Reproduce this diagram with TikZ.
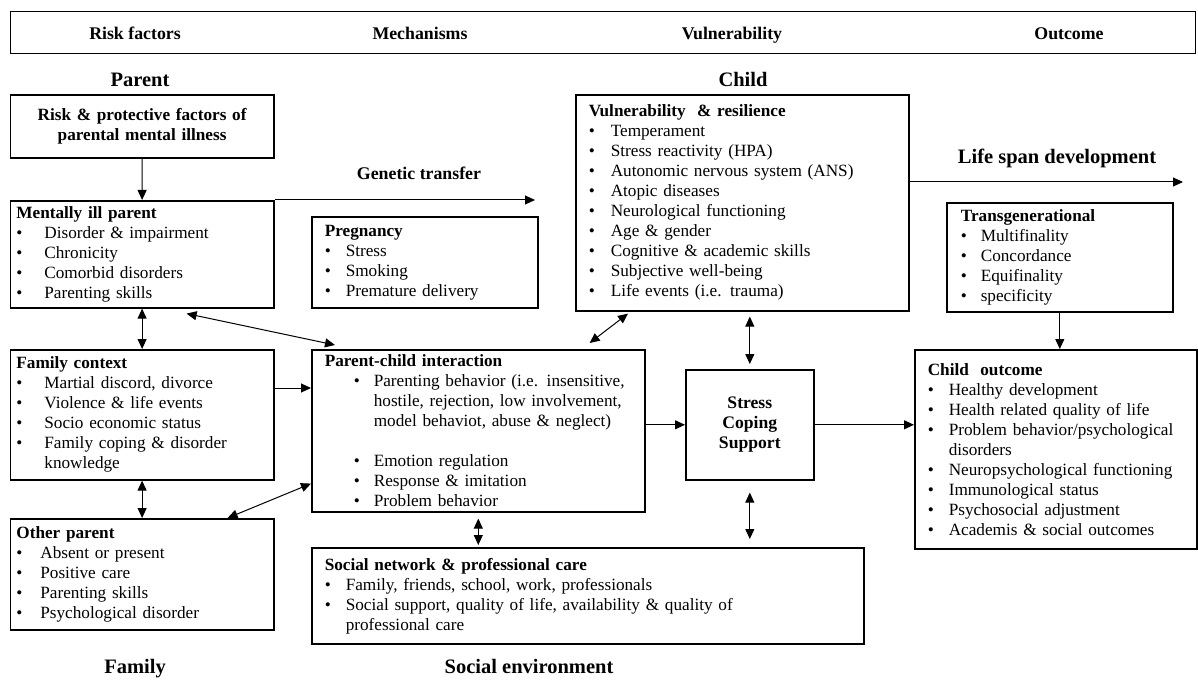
\documentclass[tikz,border=0pt]{standalone}
\usepackage{fontspec}
\setmainfont{Liberation Serif}
\usepackage{tikz}
\usepackage{xcolor}
\usetikzlibrary{arrows.meta,positioning,calc}
\definecolor{ink}{RGB}{0,0,0}
\tikzstyle{box} = [
    rectangle,
    draw=ink,
    line width=0.8pt,
    anchor=north west,
    align=left,
    inner ysep=1pt,
    font=\fontsize{8.6}{10}\selectfont
]
\tikzstyle{arrow} = [
    line width=0.5pt,
    draw=ink,
    -{Triangle[length=5pt,width=4.5pt]}
]
\tikzstyle{dblarrow} = [
    line width=0.5pt,
    draw=ink,
    {Triangle[length=5pt,width=4.5pt]}-{Triangle[length=5pt,width=4.5pt]}
]
\tikzstyle{heading} = [font=\fontsize{10.25}{12}\selectfont\bfseries, text height=1.6ex, text depth=0.25ex]
\tikzstyle{colhead} = [font=\fontsize{8.9}{11}\selectfont\bfseries, text height=1.6ex, text depth=0.25ex]
\newcommand{\itm}[2][10.5pt]{\makebox[#1][l]{\textbullet}#2}

\begin{document}
\begin{tikzpicture}[x=0.5pt, y=-0.5pt]
    \useasboundingbox (0,0) rectangle (1198,684);

    % column headers
    \node[draw=ink, line width=0.7pt, minimum width=592.7pt, minimum height=21pt, anchor=north west] (hdr) at (9.6,11) {};
    \node[colhead] (hrisk) at (135,33) {Risk factors};
    \node[colhead] (hmech) at (420,33) {Mechanisms};
    \node[colhead] (hvuln) at (732,33) {Vulnerability};
    \node[colhead] (hout) at (1069,33) {Outcome};

    \node[heading] (parent) at (140,80) {Parent};
    \node[heading] (child) at (743,80) {Child};
    \node[heading] (lifespan) at (1057,157) {Life span development};
    \node[heading] (family) at (135,667) {Family};
    \node[heading] (socenv) at (529,667) {Social environment};
    \node[colhead] (genetic) at (419,173) {Genetic transfer};

    % parent side
    \node[box, align=center, text width=125pt, inner xsep=3.35pt, minimum height=31.5pt] (risk) at (9.6,94)
        {\bfseries Risk \& protective factors of\\ parental mental illness};
    \node[box, text width=125.7pt, inner xsep=3pt, minimum height=53.5pt] (mip) at (9.6,200)
        {\textbf{Mentally ill parent}\\
         \itm[14pt]{Disorder \& impairment}\\
         \itm[14pt]{Chronicity}\\
         \itm[14pt]{Comorbid disorders}\\
         \itm[14pt]{Parenting skills}};
    \node[box, text width=125.7pt, inner xsep=3pt, minimum height=65pt] (fc) at (9.6,349)
        {\textbf{Family context}\\
         \itm[14pt]{Martial discord, divorce}\\
         \itm[14pt]{Violence \& life events}\\
         \itm[14pt]{Socio economic status}\\
         \itm[14pt]{Family coping \& disorder}\\
         \hspace*{14pt}knowledge};
    \node[box, text width=125.7pt, inner xsep=3pt, minimum height=55.5pt] (op) at (9.6,518)
        {\textbf{Other parent}\\
         \itm[12pt]{Absent or present}\\
         \itm[12pt]{Positive care}\\
         \itm[12pt]{Parenting skills}\\
         \itm[12pt]{Psychological disorder}};

    % mechanisms
    \node[box, text width=100pt, inner xsep=6.5pt, minimum height=45.5pt] (preg) at (311,216)
        {\textbf{Pregnancy}\\
         \itm{Stress}\\
         \itm{Smoking}\\
         \itm{Premature delivery}};
    \node[box, text width=153.5pt, inner xsep=6.5pt, minimum height=81pt] (pc) at (311,349)
        {\textbf{Parent-child interaction}\\
         \hspace*{14.5pt}\itm[10pt]{Parenting behavior (i.e. insensitive,}\\
         \hspace*{24.5pt}hostile, rejection, low involvement,\\
         \hspace*{24.5pt}model behaviot, abuse \& neglect)\\[10pt]
         \hspace*{14.5pt}\itm[10pt]{Emotion regulation}\\
         \hspace*{14.5pt}\itm[10pt]{Response \& imitation}\\
         \hspace*{14.5pt}\itm[10pt]{Problem behavior}};
    \node[box, text width=263pt, inner xsep=6.5pt, minimum height=48pt] (social) at (311,547)
        {\textbf{Social network \& professional care}\\
         \itm{Family, friends, school, work, professionals}\\
         \itm{Social support, quality of life, availability \& quality of}\\
         \hspace*{10.5pt}professional care};

    % child side
    \node[box, text width=153.5pt, inner xsep=6.5pt, minimum height=108pt] (vuln) at (575,94)
        {\textbf{Vulnerability \ \& resilience}\\
         \itm[11pt]{Temperament}\\
         \itm[11pt]{Stress reactivity (HPA)}\\
         \itm[11pt]{Autonomic nervous system (ANS)}\\
         \itm[11pt]{Atopic diseases}\\
         \itm[11pt]{Neurological functioning}\\
         \itm[11pt]{Age \& gender}\\
         \itm[11pt]{Cognitive \& academic skills}\\
         \itm[11pt]{Subjective well-being}\\
         \itm[11pt]{Life events (i.e. trauma)}};
    \node[box, align=center, minimum width=64pt, minimum height=55pt, font=\fontsize{8.8}{10}\selectfont\bfseries] (stress) at (685,369)
        {Stress\\ Coping\\ Support};

    % outcome
    \node[box, text width=99pt, inner xsep=7pt, minimum height=54.5pt] (tg) at (946,202)
        {\textbf{Transgenerational}\\
         \itm[10pt]{Multifinality}\\
         \itm[10pt]{Concordance}\\
         \itm[10pt]{Equifinality}\\
         \itm[10pt]{specificity}};
    \node[box, text width=128pt, inner xsep=6.5pt, minimum height=99.5pt] (co) at (914,349)
        {\textbf{Child \ outcome}\\
         \itm{Healthy development}\\
         \itm{Health related quality of life}\\
         \itm{Problem behavior/psychological}\\
         \hspace*{10.5pt}disorders\\
         \itm{Neuropsychological functioning}\\
         \itm{Immunological status}\\
         \itm{Psychosocial adjustment}\\
         \itm{Academis \& social outcomes}};

    % connectors
    \coordinate (gtend) at (535,200);
    \coordinate (lsend) at (1183,182);
    \draw[arrow] (risk) -- (mip);
    \draw[arrow] (mip.north east) -- (gtend);
    \draw[arrow] (vuln.east |- lsend) -- (lsend);
    \draw[arrow] (tg.south) -- (tg.south |- co.north);
    \draw[dblarrow] (mip) -- (fc);
    \draw[dblarrow] (fc) -- (op);
    \draw[dblarrow] ($(mip.south west)+(177,5)$) -- ($(pc.north west)+(24,-4)$);
    \draw[arrow] ($(fc.north east)+(0,39)$) -- ($(pc.north west)+(0,39)$);
    \draw[dblarrow] ($(op.north west)+(218,0)$) -- ($(pc.south west)+(0,-29)$);
    \draw[dblarrow] ($(vuln.south west)+(53,2)$) -- ($(pc.north east)+(-56,-6)$);
    \draw[dblarrow, shorten <=2.5pt, shorten >=2.5pt] (stress.north |- vuln.south) -- (stress.north);
    \draw[arrow] (pc.east |- stress) -- (stress);
    \draw[arrow] (stress) -- (stress -| co.west);
    \draw[dblarrow, shorten <=3pt, shorten >=1pt] (pc.south) -- (pc.south |- social.north);
    \draw[dblarrow, shorten <=6pt, shorten >=4pt] (stress.south) -- (stress.south |- social.north);
\end{tikzpicture}
\end{document}
